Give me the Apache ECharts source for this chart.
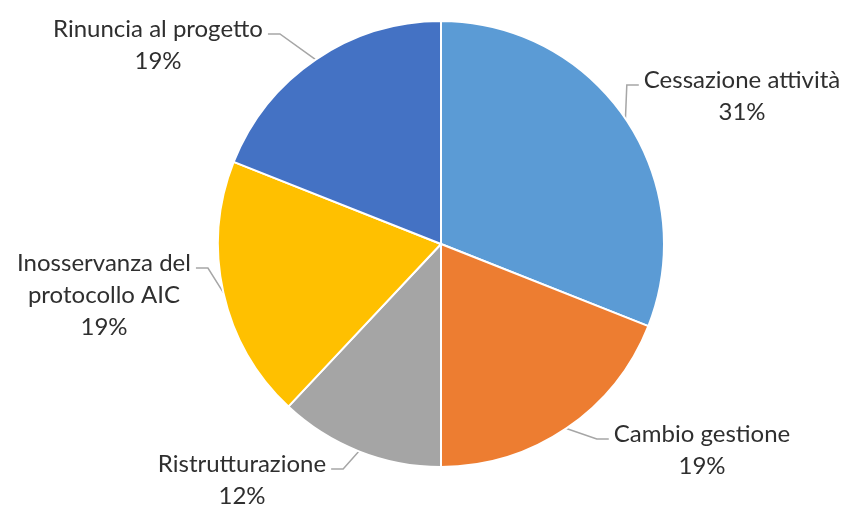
<!DOCTYPE html>
<html>
<head>
<meta charset="utf-8">
<script src="https://cdn.jsdelivr.net/npm/echarts@6/dist/echarts.min.js"></script>
<style>
  html, body { margin: 0; padding: 0; background: #ffffff; }
  #chart { width: 842px; height: 506px; }
</style>
</head>
<body>
<div id="chart"></div>
<script>
// Motivi di chiusura (quota percentuale)
const categories = [
  'Cessazione attività',
  'Cambio gestione',
  'Ristrutturazione',
  'Inosservanza del\nprotocollo AIC',
  'Rinuncia al progetto'
];
const shares = [31, 19, 12, 19, 19];
const sliceColors = ['#5B9BD5', '#ED7D31', '#A5A5A5', '#FFC000', '#4472C4'];

// Centre of each label block, placed around the pie
const labelSpots = [
  [742, 96],
  [702, 450],
  [242, 480],
  [104, 295],
  [158, 45]
];

const FONT_SIZE = 24;
const LINE_HEIGHT = 32;
const FONT_FAMILY = 'Lato, "Noto Sans", sans-serif';

// Width of the first text line, so the leader line can meet its end
const measureCtx = document.createElement('canvas').getContext('2d');
measureCtx.font = FONT_SIZE + 'px ' + FONT_FAMILY;
function firstLineWidth(name) {
  return measureCtx.measureText(name.split('\n')[0]).width;
}

const chart = echarts.init(document.getElementById('chart'), null, { renderer: 'canvas' });

chart.setOption({
  animation: false,
  backgroundColor: '#ffffff',
  series: [{
    type: 'pie',
    center: [441, 244],
    radius: 223,
    startAngle: 90,
    clockwise: true,
    avoidLabelOverlap: false,
    data: categories.map((name, i) => ({
      name: name,
      value: shares[i],
      itemStyle: { color: sliceColors[i] }
    })),
    itemStyle: { borderColor: '#ffffff', borderWidth: 2 },
    label: {
      show: true,
      position: 'outside',
      formatter: p => p.name + '\n' + p.value + '%',
      fontFamily: FONT_FAMILY,
      fontSize: FONT_SIZE,
      lineHeight: LINE_HEIGHT,
      color: '#2f2f2f',
      align: 'center'
    },
    labelLine: {
      show: true,
      length: 10,
      length2: 10,
      lineStyle: { color: '#A6A6A6', width: 1.5 }
    },
    labelLayout: function (params) {
      const i = params.dataIndex;
      const spot = labelSpots[i];
      const anchor = params.labelLinePoints[0];
      const lineCount = categories[i].split('\n').length + 1;
      // vertical position of the first text line, a little under its middle
      const firstY = spot[1] - (lineCount - 1) * LINE_HEIGHT / 2 + 5;
      const half = firstLineWidth(categories[i]) / 2;
      const onLeft = anchor[0] > spot[0];
      const startX = onLeft ? spot[0] + half + 5 : spot[0] - half - 5;
      const bendX = onLeft ? startX + 12 : startX - 12;
      return {
        x: spot[0],
        y: spot[1],
        align: 'center',
        verticalAlign: 'middle',
        labelLinePoints: [
          [anchor[0], anchor[1]],
          [bendX, firstY],
          [startX, firstY]
        ]
      };
    }
  }]
});
</script>
</body>
</html>
